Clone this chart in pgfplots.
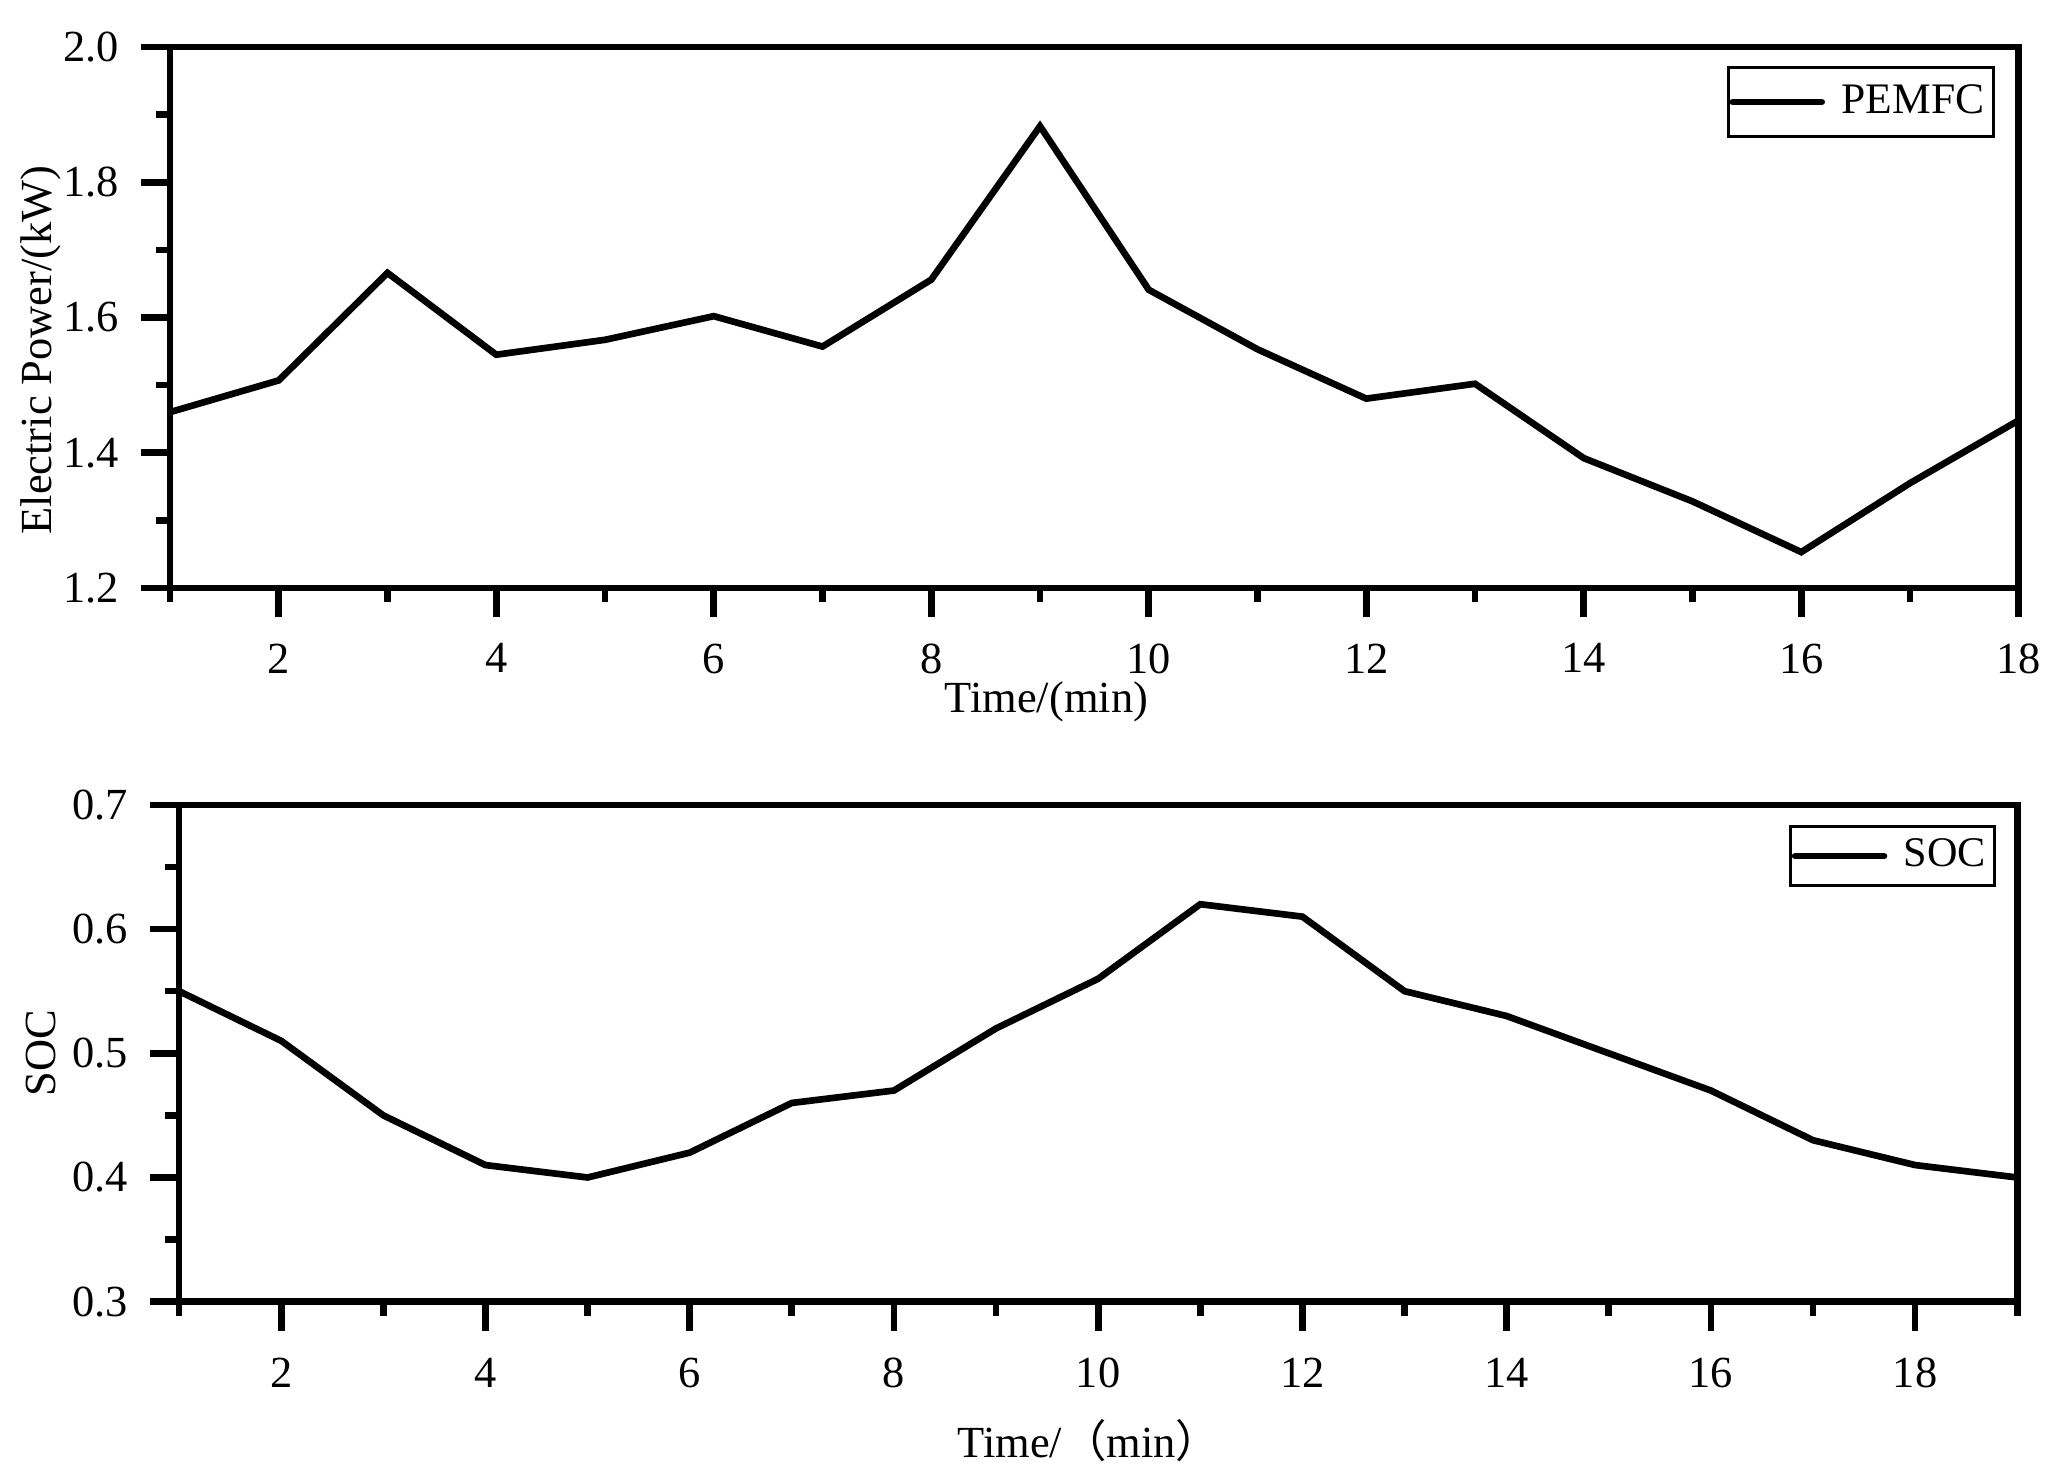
\documentclass[border=0pt]{standalone}
\usepackage{fontspec}
\setmainfont{Liberation Serif}
\newfontfamily\cjk{Noto Sans CJK SC}
\usepackage{pgfplots}
\pgfplotsset{compat=1.18}

\pgfplotsset{
  panel/.style={
    scale only axis,
    axis line style={line width=1.5pt},
    every tick/.style={black, line width=1.5pt},
    tick align=outside,
    major tick length=6.5pt,
    minor tick length=3.2pt,
    xtick pos=bottom, ytick pos=left,
    /pgf/number format/assume math mode=true,
    tick label style={font=\fontsize{10}{12}\selectfont},
    label style={font=\fontsize{10}{12}\selectfont},
    yticklabel style={xshift=-1.5pt,
      /pgf/number format/fixed,
      /pgf/number format/fixed zerofill,
      /pgf/number format/precision=1},
    legend cell align=left,
    legend style={draw=black, line width=0.7pt,
      at={(rel axis cs:1,1)}, anchor=north east,
      inner xsep=0.3pt,
      nodes={inner xsep=1.7pt, inner ysep=2pt}, column sep=2pt},
    legend image code/.code={\draw[line width=1.5pt, line cap=round] (0pt,0pt) -- (20pt,0pt);},
  }
}

\begin{document}
\begin{tikzpicture}
\useasboundingbox (0,0) rectangle (463.3pt,-333.9pt);

% PEMFC power
\begin{axis}[panel,
  at={(38.25pt,-10.6pt)}, anchor=north west,
  width=416pt, height=121.7pt,
  xmin=1, xmax=18, ymin=1.2, ymax=2.0,
  xtick={2,4,...,18}, minor xtick={1,3,...,17},
  ytick={1.2,1.4,1.6,1.8,2.0}, minor ytick={1.3,1.5,1.7,1.9},
  xticklabel style={yshift=-2.5pt},
  xlabel={Time/(min)},
  xlabel style={at={(axis description cs:0.474,0)}, anchor=base, yshift=-28pt},
  ylabel={Electric Power/(kW)},
  ylabel style={at={(axis description cs:0,0.44)}, anchor=center, yshift=29pt},
  legend style={xshift=-5.4pt, yshift=-4.3pt, inner ysep=1.7pt,
    font=\fontsize{9.8}{11}\selectfont},
]
\addplot[black, line width=1.5pt] coordinates {
  (1,1.460) (2,1.507) (3,1.666) (4,1.545) (5,1.567) (6,1.602)
  (7,1.557) (8,1.656) (9,1.883) (10,1.641) (11,1.553) (12,1.480)
  (13,1.502) (14,1.392) (15,1.328) (16,1.253) (17,1.355) (18,1.448)
};
\addlegendentry{PEMFC}
\end{axis}

% battery state of charge
\begin{axis}[panel,
  at={(40.3pt,-181.1pt)}, anchor=north west,
  width=413.6pt, height=111.8pt,
  xmin=1, xmax=19, ymin=0.3, ymax=0.7,
  xtick={2,4,...,18}, minor xtick={1,3,...,19},
  ytick={0.3,0.4,0.5,0.6,0.7}, minor ytick={0.35,0.45,0.55,0.65},
  xticklabel style={yshift=-2.6pt},
  xlabel={Time/{\cjk （}min{\cjk ）}},
  xlabel style={at={(axis description cs:0.495,0)}, anchor=base, yshift=-35.1pt},
  ylabel={SOC},
  ylabel style={at={(axis description cs:0,0.5)}, anchor=center, yshift=31pt},
  legend style={xshift=-4.7pt, yshift=-4.5pt, inner ysep=0.8pt,
    font=\fontsize{9.5}{11}\selectfont},
]
\addplot[black, line width=1.5pt] coordinates {
  (1,0.55) (2,0.51) (3,0.45) (4,0.41) (5,0.40) (6,0.42)
  (7,0.46) (8,0.47) (9,0.52) (10,0.56) (11,0.62) (12,0.61)
  (13,0.55) (14,0.53) (15,0.50) (16,0.47) (17,0.43) (18,0.41) (19,0.40)
};
\addlegendentry{SOC}
\end{axis}
\end{tikzpicture}
\end{document}
